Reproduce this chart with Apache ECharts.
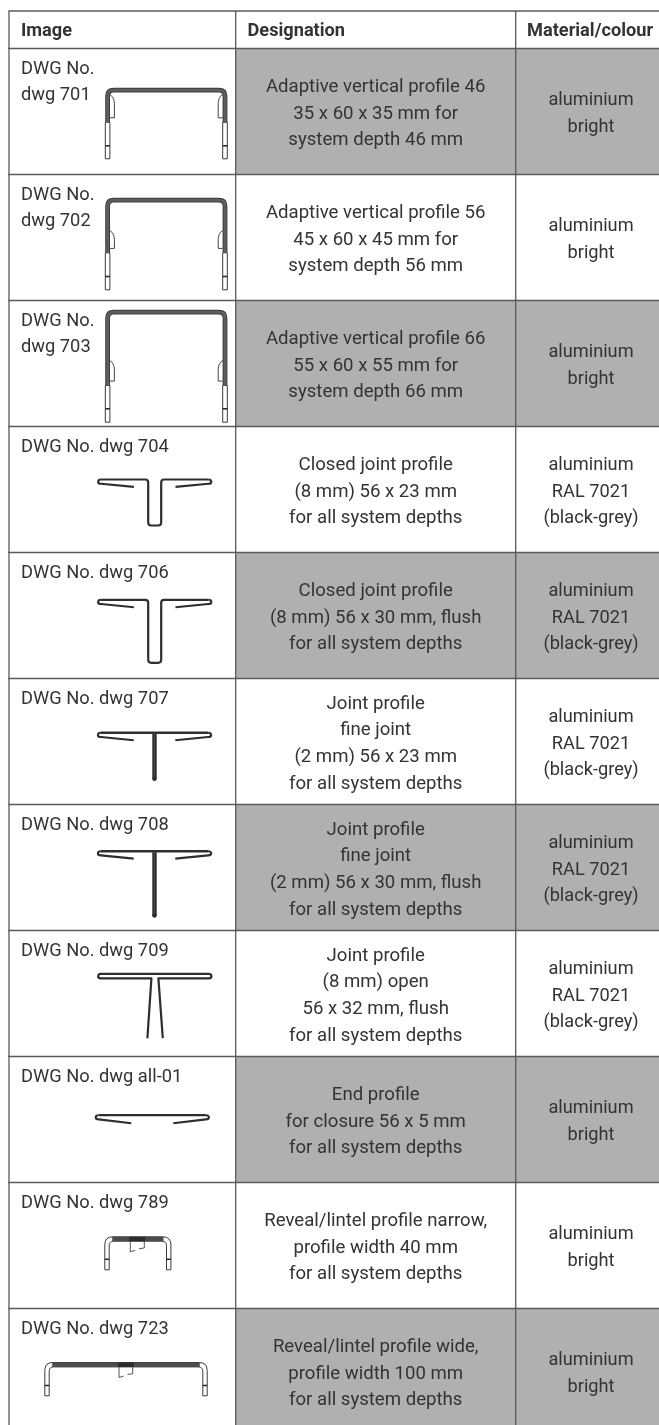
<!DOCTYPE html>
<html><head><meta charset="utf-8">
<style>html,body{margin:0;padding:0;background:#fff}#c{width:659px;height:1425px}</style>
<script src="https://cdn.jsdelivr.net/npm/echarts@6/dist/echarts.min.js"></script>
</head><body><div id="c"></div>
<script>
// ---- table content ----
const headers = ['Image','Designation','Material/colour'];
const imageLabels = [
 ['DWG No.','dwg 701'],['DWG No.','dwg 702'],['DWG No.','dwg 703'],
 ['DWG No. dwg 704'],['DWG No. dwg 706'],['DWG No. dwg 707'],['DWG No. dwg 708'],
 ['DWG No. dwg 709'],['DWG No. dwg all-01'],['DWG No. dwg 789'],['DWG No. dwg 723']
];
const designations = [
 ['Adaptive vertical profile 46','35 x 60 x 35 mm for','system depth 46 mm'],
 ['Adaptive vertical profile 56','45 x 60 x 45 mm for','system depth 56 mm'],
 ['Adaptive vertical profile 66','55 x 60 x 55 mm for','system depth 66 mm'],
 ['Closed joint profile','(8 mm) 56 x 23 mm','for all system depths'],
 ['Closed joint profile','(8 mm) 56 x 30 mm, flush','for all system depths'],
 ['Joint profile','fine joint','(2 mm) 56 x 23 mm','for all system depths'],
 ['Joint profile','fine joint','(2 mm) 56 x 30 mm, flush','for all system depths'],
 ['Joint profile','(8 mm) open','56 x 32 mm, flush','for all system depths'],
 ['End profile','for closure 56 x 5 mm','for all system depths'],
 ['Reveal/lintel profile narrow,','profile width 40 mm','for all system depths'],
 ['Reveal/lintel profile wide,','profile width 100 mm','for all system depths']
];
const materials = [
 ['aluminium','bright'],['aluminium','bright'],['aluminium','bright'],
 ['aluminium','RAL 7021','(black-grey)'],['aluminium','RAL 7021','(black-grey)'],
 ['aluminium','RAL 7021','(black-grey)'],['aluminium','RAL 7021','(black-grey)'],
 ['aluminium','RAL 7021','(black-grey)'],
 ['aluminium','bright'],['aluminium','bright'],['aluminium','bright']
];
const shadedRows = [1,0,1,0,1,0,1,0,1,0,1];

// ---- layout ----
const W = 659, H = 1425;
const colX = [9, 235.7, 515.7, 667];
const topY = 11, headBottom = 48.5, rowH = 126;
const rowTop = i => headBottom + i * rowH;
const INK = '#333333', RULE = '#5a5a5a', SHADE = '#b0b0b0';

// ---- profile drawings, in px relative to each row's top ----
// adaptive U profiles: top, end of dark part, crossbar, bottom, hook start
const adaptive = {0:[39.3,73.7,97.3,110.3,46],1:[23.3,78.3,102,115.3,56],2:[9.3,85,108.3,121.7,60]};
// joint profiles: centre x, top, bottom, half-gap of the stem
const joints = {3:[154.7,53,99,6.5],4:[154.7,47.3,110.3,6.5],5:[154.5,54.3,100.3,0],6:[154.5,46.7,111,0]};

function strokeEl(d, w, color, fill){
  return {type:'path', shape:{pathData:d}, style:{fill:fill||'none', stroke:color||'#2e2e2e', lineWidth:w||2, lineJoin:'round', lineCap:'butt'}};
}
function tipPath(cx, half, y, armEndOff, armDrop){
  const l = cx-half, r = cx+half;
  return `M${l+3} ${y} Q${l} ${y} ${l} ${y+2.4} Q${l} ${y+4.2} ${l+3} ${y+4.2} L${cx-armEndOff} ${y+armDrop} `+
         `M${r-3} ${y} Q${r} ${y} ${r} ${y+2.4} Q${r} ${y+4.2} ${r-3} ${y+4.2} L${cx+armEndOff} ${y+armDrop}`;
}
function jointEls(cx, t, b, g){
  const half = 56.6, els = [];
  els.push(strokeEl(tipPath(cx,half,t,20.8,7.4),2.1));
  if (g > 0) {
    els.push(strokeEl(`M${cx-half+3} ${t} L${cx-g-3} ${t} Q${cx-g} ${t} ${cx-g} ${t+3} L${cx-g} ${b-3} Q${cx-g} ${b} ${cx-g+3} ${b} L${cx+g-3} ${b} Q${cx+g} ${b} ${cx+g} ${b-3} L${cx+g} ${t+3} Q${cx+g} ${t} ${cx+g+3} ${t} L${cx+half-3} ${t}`,2.2));
  } else {
    els.push(strokeEl(`M${cx-half+3} ${t} L${cx+half-3} ${t}`,2.5));
    els.push(strokeEl(`M${cx-1.4} ${t+1} L${cx-1.4} ${b} L${cx+1.4} ${b} L${cx+1.4} ${t+1}`,1.6,'#2e2e2e','#444'));
    els.push({type:'circle',shape:{cx:cx,cy:b,r:2.2},style:{fill:'#2e2e2e'}});
  }
  return els;
}
function adaptiveEls(p){
  const [t,dark,bar,bot,hook] = p, L = 107.6, R = 225, els = [], tw = 2.3;
  const r = 6;
  [[L,1],[R,-1]].forEach(([x,s])=>{
    els.push({type:'rect',shape:{x:x-tw,y:dark,width:2*tw,height:bot-dark},style:{fill:'#fff',stroke:'#3a3a3a',lineWidth:1}});
    els.push(strokeEl(`M${x-tw} ${bar} L${x+tw} ${bar}`,1.6,'#2a2a2a'));
    const hx = x + s*tw, hEnd = dark-4.4;
    els.push(strokeEl(`M${hx} ${hook} Q${hx+s*4.5} ${hook+3} ${hx+s*4.5} ${hook+9} L${hx+s*4.5} ${hEnd} L${hx} ${hEnd}`,1,'#444'));
  });
  const d=`M${L} ${dark} L${L} ${t+2.3+r} Q${L} ${t+2.3} ${L+r} ${t+2.3} L${R-r} ${t+2.3} Q${R} ${t+2.3} ${R} ${t+2.3+r} L${R} ${dark}`;
  els.push(strokeEl(d,4.8,'#3c3c3c'));
  els.push(strokeEl(d,2.8,'#5e5e5e'));
  return els;
}
function revealEls(L,R,t,bar,bot,bx0,bx1){
  const w=4.4, r=6, els=[];
  const outer=`M${L} ${bot} L${L} ${t+r+2} Q${L} ${t} ${L+r+2} ${t} L${R-r-2} ${t} Q${R} ${t} ${R} ${t+r+2} L${R} ${bot} L${R-w} ${bot} L${R-w} ${t+r+3} Q${R-w} ${t+w} ${R-r-3} ${t+w} L${L+r+3} ${t+w} Q${L+w} ${t+w} ${L+w} ${t+r+3} L${L+w} ${bot} Z`;
  els.push(strokeEl(outer,1,'#3a3a3a','#fff'));
  els.push({type:'rect',shape:{x:L+w+3,y:t,width:R-L-2*w-6,height:w},style:{fill:'#4c4c4c'}});
  els.push({type:'rect',shape:{x:bx0-1,y:t,width:bx1-bx0+2,height:w},style:{fill:'#2c2c2c'}});
  els.push(strokeEl(`M${L} ${bar} L${L+w} ${bar} M${R-w} ${bar} L${R} ${bar}`,1.5,'#2a2a2a'));
  const d = bx1-bx0, h=10.6, h2=7.2;
  els.push(strokeEl(`M${bx0} ${t+w} L${bx0} ${t+w+h} L${bx0+d*0.34} ${t+w+h-1.4} M${bx0+d*0.62} ${t+w+h2+0.4} L${bx1} ${t+w+h2-0.4} L${bx1} ${t+w}`,0.9,'#444'));
  return els;
}
function drawingEls(i){
  if (adaptive[i]) return adaptiveEls(adaptive[i]);
  if (joints[i]) return jointEls(...joints[i]);
  if (i === 7) {
    const cx=154.8, t=43.3, half=56.6;
    return [
      strokeEl(`M${cx-half+2.5} ${t} L${cx+half-2.5} ${t} Q${cx+half} ${t} ${cx+half} ${t+2.4} Q${cx+half} ${t+4.6} ${cx+half-2.5} ${t+4.6} L${cx+3.6} ${t+4.6} L${cx+8} ${t+64.4} M${cx-half+2.5} ${t} Q${cx-half} ${t} ${cx-half} ${t+2.4} Q${cx-half} ${t+4.6} ${cx-half+2.5} ${t+4.6} L${cx-3.4} ${t+4.6} L${cx-7.4} ${t+64.4}`,2.2)
    ];
  }
  if (i === 8) {
    const cx=152.3, t=58.7, half=56.6;
    return [strokeEl(tipPath(cx,half,t,21,8),2.1), strokeEl(`M${cx-half+3} ${t} L${cx+half-3} ${t}`,2.3)];
  }
  if (i === 9) return revealEls(104.8,170.9,54.3,76.7,87.3,130.3,144.3);
  if (i === 10) return revealEls(44.8,207.2,54,77,87.3,119,132.7);
  return [];
}

// ---- chart ----
const rowIdx = imageLabels.map((_,i)=>i);
const textFont = 'Roboto, sans-serif';
function textEl(pos, s, o){
  return {type:'text', x:pos[0], y:pos[1], style:Object.assign({text:s, fontFamily:textFont, fontSize:18.5, fill:INK, verticalAlign:'middle'}, o||{})};
}
const chart = echarts.init(document.getElementById('c'), null, {renderer:'canvas'});
chart.setOption({
  animation:false, backgroundColor:'#fff',
  grid:{left:0,right:0,top:0,bottom:0},
  xAxis:{type:'value',min:0,max:W,show:false},
  yAxis:{type:'value',min:0,max:H,inverse:true,show:false},
  series:[
    {
      type:'custom', coordinateSystem:'cartesian2d', clip:false, silent:true,
      data:rowIdx.map(i=>[i]),
      renderItem:(p,api)=>{
        const i=api.value(0); if(!shadedRows[i]) return {type:'group',children:[]};
        const a=api.coord([colX[1],rowTop(i)]), b=api.coord([colX[3],rowTop(i+1)]);
        return {type:'rect',shape:{x:a[0],y:a[1],width:b[0]-a[0],height:b[1]-a[1]},style:{fill:SHADE}};
      }
    },
    {
      type:'custom', coordinateSystem:'cartesian2d', clip:false, silent:true, z:3,
      data:[[-1]].concat(rowIdx.map(i=>[i])),
      renderItem:(p,api)=>{
        const i=api.value(0), y=i<0?topY:rowTop(i);
        const a=api.coord([colX[0],y]), b=api.coord([W,y]);
        const kids=[{type:'line',shape:{x1:a[0]-0.6,y1:a[1],x2:b[0],y2:b[1]},style:{stroke:RULE,lineWidth:1.3}}];
        if(i<0) colX.slice(0,3).forEach(x=>{
          const c=api.coord([x,topY]), d=api.coord([x,H]);
          kids.push({type:'line',shape:{x1:c[0],y1:c[1],x2:d[0],y2:d[1]},style:{stroke:RULE,lineWidth:1.3}});
        });
        return {type:'group',children:kids};
      }
    },
    {
      type:'custom', coordinateSystem:'cartesian2d', clip:false, silent:true, z:4,
      data:[[-1]].concat(rowIdx.map(i=>[i])),
      renderItem:(p,api)=>{
        const i=api.value(0), kids=[];
        if(i<0){
          const bold={fontWeight:'bold',fontSize:18.2};
          kids.push(textEl(api.coord([21,31]),headers[0],bold));
          kids.push(textEl(api.coord([247.5,31]),headers[1],bold));
          kids.push(textEl(api.coord([527,31]),headers[2],bold));
        } else {
          imageLabels[i].forEach((s,k)=>kids.push(textEl(api.coord([21,rowTop(i)+20.6+k*26.7]),s,{fontSize:18.3})));
          const cy=rowTop(i)+rowH/2+2.5;
          designations[i].forEach((s,k,arr)=>kids.push(textEl(api.coord([375.7,cy+(k-(arr.length-1)/2)*26.6]),s,{align:'center',fontSize:18.6})));
          materials[i].forEach((s,k,arr)=>kids.push(textEl(api.coord([591,cy+(k-(arr.length-1)/2)*26.6]),s,{align:'center',fontSize:18.2})));
        }
        return {type:'group',children:kids};
      }
    },
    {
      type:'custom', coordinateSystem:'cartesian2d', clip:false, silent:true, z:2,
      data:rowIdx.map(i=>[i]),
      renderItem:(p,api)=>{
        const i=api.value(0), o=api.coord([0,rowTop(i)]);
        return {type:'group',x:o[0],y:o[1],children:drawingEls(i)};
      }
    }
  ]
});
</script></body></html>
